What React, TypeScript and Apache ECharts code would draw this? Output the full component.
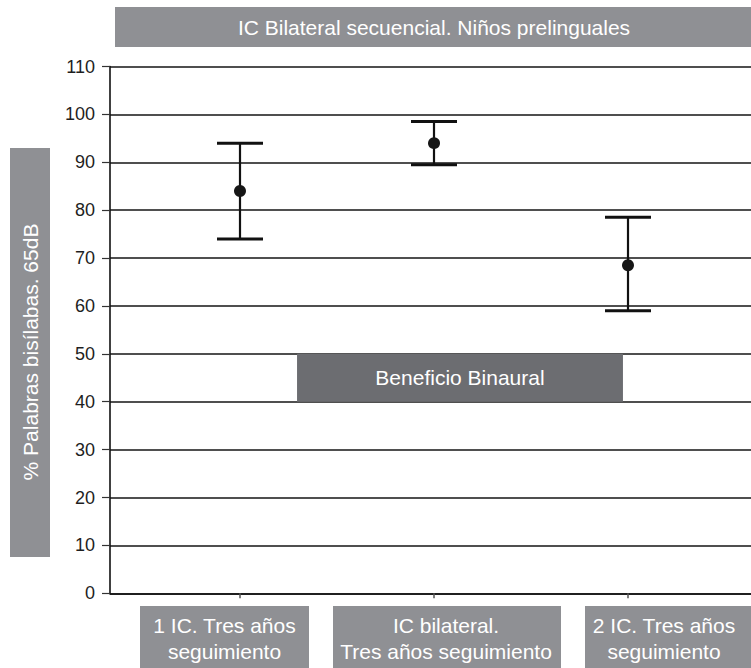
import React, { useEffect, useRef } from "react";
import * as echarts from "echarts";

const chartTitle = "IC Bilateral secuencial. Niños prelinguales";
const yAxisTitle = "% Palabras bisílabas. 65dB";
const annotationText = "Beneficio Binaural";
const categories = [
  "1 IC. Tres años\nseguimiento",
  "IC bilateral.\nTres años seguimiento",
  "2 IC. Tres años\nseguimiento",
];
const positions = [1, 2, 3];
const means = [84, 94, 68.5];
const lower = [74, 89.5, 59];
const upper = [94, 98.5, 78.5];
const annotationY = [40, 50];
const annotationX = [1.294, 2.974];

const FONT = "'Liberation Sans', Arial, Helvetica, sans-serif";
const BOX = "#8f9094";
const DARK = "#6c6d71";

const labelBoxes = [
  { x: 140, w: 169, cx: 224.5 },
  { x: 333, w: 228, cx: 446 },
  { x: 585, w: 170, cx: 664 },
];

export default function App() {
  const ref = useRef<HTMLDivElement>(null);
  useEffect(() => {
    if (!ref.current) return;
    const chart = echarts.init(ref.current, undefined, { renderer: "svg" });
    const errData = positions.map((p, i) => [p, lower[i], upper[i]]);
    const meanData = positions.map((p, i) => [p, means[i]]);

    const txt = (text: string, x: number, y: number, rotation = 0) => ({
      type: "text",
      x,
      y,
      rotation,
      z: 20,
      style: {
        text,
        fill: "#ffffff",
        fontSize: 21,
        fontFamily: FONT,
        lineHeight: 26,
        align: "center",
        verticalAlign: "middle",
        textAlign: "center",
        textVerticalAlign: "middle",
      },
    });

    chart.setOption({
      animation: false,
      backgroundColor: "#ffffff",
      grid: { left: 110, right: 0, top: 66.5, bottom: 74.7, containLabel: false },
      xAxis: {
        type: "value",
        min: 0.3299,
        max: 3.634,
        splitLine: { show: false },
        axisLine: { show: true, lineStyle: { color: "#111", width: 1.6 } },
        axisTick: {
          show: true,
          customValues: positions,
          length: 5,
          lineStyle: { color: "#555", width: 1.5 },
        },
        axisLabel: { show: false },
      },
      yAxis: {
        type: "value",
        min: 0,
        max: 110,
        interval: 10,
        axisLine: { show: true, lineStyle: { color: "#111", width: 1.6 } },
        axisTick: { show: true, length: 8, lineStyle: { color: "#333", width: 1.2 } },
        axisLabel: { color: "#1e1e1e", fontSize: 18, fontFamily: FONT, margin: 15 },
        splitLine: { show: true, lineStyle: { color: "#151515", width: 1.7 } },
      },
      graphic: [
        { type: "rect", z: 10, shape: { x: 115, y: 7, width: 650, height: 40 }, style: { fill: BOX } },
        txt(chartTitle, 434, 27.5),
        { type: "rect", z: 10, shape: { x: 10, y: 148, width: 40, height: 409 }, style: { fill: BOX } },
        txt(yAxisTitle, 30, 352, Math.PI / 2),
        ...categories.map((c, i) => ({
          type: "rect",
          z: 10,
          shape: { x: labelBoxes[i].x, y: 606, width: labelBoxes[i].w, height: 70 },
          style: { fill: BOX },
        })),
        ...categories.map((c, i) => txt(c, labelBoxes[i].cx, 638)),
      ],
      series: [
        {
          type: "custom",
          data: errData,
          z: 5,
          renderItem: (params: any, api: any) => {
            const x = api.value(0);
            const lo = api.coord([x, api.value(1)]);
            const hi = api.coord([x, api.value(2)]);
            const hw = 23;
            return {
              type: "group",
              children: [
                {
                  type: "line",
                  shape: { x1: lo[0], y1: lo[1], x2: hi[0], y2: hi[1] },
                  style: { stroke: "#111", lineWidth: 2.2 },
                },
                {
                  type: "line",
                  shape: { x1: hi[0] - hw, y1: hi[1], x2: hi[0] + hw, y2: hi[1] },
                  style: { stroke: "#111", lineWidth: 3 },
                },
                {
                  type: "line",
                  shape: { x1: lo[0] - hw, y1: lo[1], x2: lo[0] + hw, y2: lo[1] },
                  style: { stroke: "#111", lineWidth: 3 },
                },
              ],
            };
          },
        },
        {
          type: "scatter",
          data: meanData,
          symbol: "circle",
          symbolSize: 12,
          z: 6,
          itemStyle: { color: "#161616", opacity: 1 },
          markArea: {
            silent: true,
            itemStyle: { color: DARK, opacity: 1 },
            label: {
              show: true,
              position: "inside",
              color: "#ffffff",
              fontSize: 21,
              fontFamily: FONT,
            },
            data: [
              [
                { name: annotationText, xAxis: annotationX[0], yAxis: annotationY[1] },
                { xAxis: annotationX[1], yAxis: annotationY[0] },
              ],
            ],
          },
        },
      ],
    });
    return () => chart.dispose();
  }, []);
  return (
    <div
      ref={ref}
      style={{ position: "fixed", left: 0, top: 0, width: 751, height: 668, background: "#fff" }}
    />
  );
}
